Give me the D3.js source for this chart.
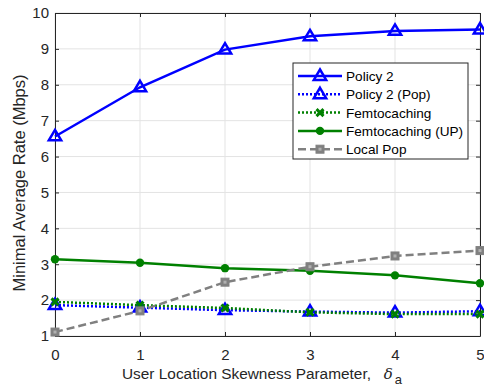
<!DOCTYPE html>
<html>
<head>
<meta charset="utf-8">
<script src="https://cdn.jsdelivr.net/npm/d3@7"></script>
<style>
  html, body { margin: 0; padding: 0; background: #fff; }
  svg { display: block; font-family: "Liberation Sans", Arial, Helvetica, sans-serif; }
</style>
</head>
<body>
<svg id="chart" width="484" height="389"></svg>
<script>
// Skewness parameter values on the x axis
const deltaValues = [0, 1, 2, 3, 4, 5];
const xTicks = [0, 1, 2, 3, 4, 5];
const yTicks = [1, 2, 3, 4, 5, 6, 7, 8, 9, 10];

// Minimal average rate (Mbps) for each scheme
const policy2      = [6.56, 7.93, 8.98, 9.35, 9.50, 9.54];
const policy2Pop   = [1.86, 1.79, 1.72, 1.68, 1.65, 1.69];
const femto        = [1.95, 1.86, 1.78, 1.66, 1.61, 1.61];
const femtoUP      = [3.14, 3.04, 2.89, 2.82, 2.69, 2.47];
const localPop     = [1.11, 1.70, 2.50, 2.93, 3.23, 3.38];

const seriesNames = ["Policy 2", "Policy 2 (Pop)", "Femtocaching", "Femtocaching (UP)", "Local Pop"];

const BLUE = "#0000ff", GREEN = "#008000", GRAY = "#808080";

const series = [
  { name: seriesNames[0], values: policy2,    color: BLUE,  dash: null,   marker: "tri" },
  { name: seriesNames[1], values: policy2Pop, color: BLUE,  dash: "2,2",  marker: "tri" },
  { name: seriesNames[2], values: femto,      color: GREEN, dash: "2,2",  marker: "x" },
  { name: seriesNames[3], values: femtoUP,    color: GREEN, dash: null,   marker: "circle" },
  { name: seriesNames[4], values: localPop,   color: GRAY,  dash: "8,4",  marker: "square" }
];

const svg = d3.select("#chart");
const margin = { left: 55, right: 4, top: 13, bottom: 53 };
const W = 484, H = 389;
const x = d3.scaleLinear().domain([0, 5]).range([margin.left, W - margin.right]);
const y = d3.scaleLinear().domain([1, 10]).range([H - margin.bottom, margin.top]);

// grid
const grid = svg.append("g");
grid.selectAll(".gx").data(xTicks).join("line")
  .attr("x1", d => x(d)).attr("x2", d => x(d))
  .attr("y1", y(1)).attr("y2", y(10))
  .attr("stroke", "#e3e3e3").attr("stroke-width", 1);
grid.selectAll(".gy").data(yTicks).join("line")
  .attr("x1", x(0)).attr("x2", x(5))
  .attr("y1", d => y(d)).attr("y2", d => y(d))
  .attr("stroke", "#e3e3e3").attr("stroke-width", 1);

// axes (ticks pointing inward, box on all sides)
const axisColor = "#262626";
function styleAxis(g) {
  g.select(".domain").attr("stroke", axisColor).attr("stroke-width", 1);
  g.selectAll(".tick line").attr("stroke", axisColor);
  g.selectAll(".tick text").attr("fill", "#262626").attr("font-size", "15px")
    .attr("font-family", "Liberation Sans, Arial, sans-serif");
}
const xAxis = svg.append("g").attr("transform", `translate(0,${y(1)})`)
  .call(d3.axisBottom(x).tickValues(xTicks).tickFormat(d3.format("d")).tickSizeInner(-4).tickSizeOuter(0).tickPadding(13));
styleAxis(xAxis);
const xAxisTop = svg.append("g").attr("transform", `translate(0,${y(10)})`)
  .call(d3.axisTop(x).tickValues(xTicks).tickFormat("").tickSizeInner(-4).tickSizeOuter(0));
styleAxis(xAxisTop);
const yAxis = svg.append("g").attr("transform", `translate(${x(0)},0)`)
  .call(d3.axisLeft(y).tickValues(yTicks).tickFormat(d3.format("d")).tickSizeInner(-4).tickSizeOuter(0).tickPadding(6));
styleAxis(yAxis);
const yAxisRight = svg.append("g").attr("transform", `translate(${x(5)},0)`)
  .call(d3.axisRight(y).tickValues(yTicks).tickFormat("").tickSizeInner(-4).tickSizeOuter(0));
styleAxis(yAxisRight);

// axis titles
svg.append("text")
  .attr("x", 122).attr("y", 379)
  .attr("text-anchor", "start").attr("font-size", "15.4px").attr("fill", "#262626")
  .attr("xml:space", "preserve")
  .text("User Location Skewness Parameter,   ")
  .append("tspan").attr("font-style", "italic").attr("font-family", "DejaVu Serif, serif").attr("font-size", "15px").text("δ")
  .append("tspan").attr("font-style", "normal").attr("font-family", "Liberation Sans, Arial, sans-serif")
  .attr("font-size", "13px").attr("dx", 2).attr("dy", 5).text("a");

svg.append("text")
  .attr("transform", `translate(25,183) rotate(-90)`)
  .attr("text-anchor", "middle").attr("font-size", "16.5px").attr("fill", "#262626")
  .text("Minimal Average Rate (Mbps)");

// markers
function drawMarker(g, type, color, cx, cy) {
  if (type === "tri") {
    const s = 6.5;
    g.append("path")
      .attr("d", `M${cx},${cy - s} L${cx + s * 0.95},${cy + s * 0.6} L${cx - s * 0.95},${cy + s * 0.6} Z`)
      .attr("fill", "none").attr("stroke", color).attr("stroke-width", 2.5).attr("stroke-linejoin", "miter");
  } else if (type === "circle") {
    g.append("circle").attr("cx", cx).attr("cy", cy).attr("r", 4.2).attr("fill", color);
  } else if (type === "x") {
    const s = 3.5;
    g.append("path")
      .attr("d", `M${cx - s},${cy - s} L${cx + s},${cy + s} M${cx - s},${cy + s} L${cx + s},${cy - s}`)
      .attr("stroke", color).attr("stroke-width", 3);
  } else if (type === "square") {
    g.append("rect").attr("x", cx - 4).attr("y", cy - 4).attr("width", 8).attr("height", 8)
      .attr("fill", color).attr("stroke", color).attr("stroke-width", 1);
    g.append("rect").attr("x", cx - 1.5).attr("y", cy - 1.5).attr("width", 3).attr("height", 3)
      .attr("fill", "#b0b0b0");
  }
}

const line = d3.line().x((d, i) => x(deltaValues[i])).y(d => y(d));
const plot = svg.append("g");
series.forEach(s => {
  const g = plot.append("g");
  g.append("path").datum(s.values).attr("d", line)
    .attr("fill", "none").attr("stroke", s.color).attr("stroke-width", 2.5)
    .attr("stroke-dasharray", s.dash);
  s.values.forEach((v, i) => drawMarker(g, s.marker, s.color, x(deltaValues[i]), y(v)));
});

// legend
const lg = svg.append("g");
const lx = 293, ly = 63, lw = 175, lh = 96;
lg.append("rect").attr("x", lx).attr("y", ly).attr("width", lw).attr("height", lh)
  .attr("fill", "#fff").attr("stroke", "#262626").attr("stroke-width", 1);
series.forEach((s, i) => {
  const ry = ly + 13 + i * 18.3;
  const g = lg.append("g");
  g.append("line").attr("x1", lx + 5).attr("x2", lx + 49).attr("y1", ry).attr("y2", ry)
    .attr("stroke", s.color).attr("stroke-width", 2.5).attr("stroke-dasharray", s.dash);
  drawMarker(g, s.marker, s.color, lx + 27, ry);
  g.append("text").attr("x", lx + 53).attr("y", ry + 5)
    .attr("font-size", "13.6px").attr("fill", "#000").text(s.name);
});
</script>
</body>
</html>
